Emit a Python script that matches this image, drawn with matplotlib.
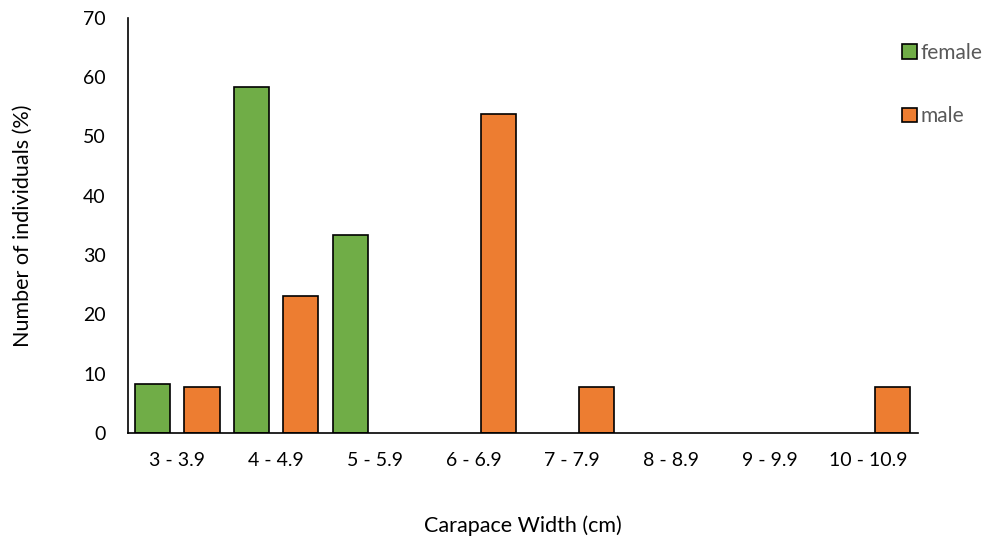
import matplotlib
matplotlib.use("Agg")
import matplotlib.pyplot as plt
import numpy as np

plt.rcParams["font.family"] = ["Lato", "DejaVu Sans"]

categories = ["3 - 3.9", "4 - 4.9", "5 - 5.9", "6 - 6.9", "7 - 7.9", "8 - 8.9", "9 - 9.9", "10 - 10.9"]
female = [8.3, 58.3, 33.3, 0, 0, 0, 0, 0]
male = [7.7, 23.1, 0, 53.8, 7.7, 0, 0, 7.7]

x = np.arange(len(categories))
width = 0.355
offset = 0.25

fig = plt.figure(figsize=(9.92, 5.39), dpi=100)
ax = fig.add_axes([0.129, 0.197, 0.796, 0.770])

# empty classes get no outline so the baseline stays clean
def edges(vals):
    return ["black" if v > 0 else "none" for v in vals]

ax.bar(x - offset, female, width, color="#70ad47", edgecolor=edges(female), linewidth=1.2, label="female")
ax.bar(x + offset, male, width, color="#ed7d31", edgecolor=edges(male), linewidth=1.2, label="male")

ax.set_xlim(-0.5, len(categories) - 0.5)
ax.set_ylim(0, 70)
ax.set_yticks(range(0, 71, 10))
ax.set_xticks(x)
ax.set_xticklabels(categories)
ax.tick_params(length=0, labelsize=14, colors="black", pad=14)
ax.tick_params(axis="y", pad=16)

for side in ["top", "right"]:
    ax.spines[side].set_visible(False)
for side in ["left", "bottom"]:
    ax.spines[side].set_linewidth(1.2)

ax.set_xlabel("Carapace Width (cm)", fontsize=15.5, labelpad=33)
ax.set_ylabel("Number of individuals (%)", fontsize=15.5, labelpad=36)

leg = ax.legend(loc="upper left", bbox_to_anchor=(0.97, 0.96), frameon=False,
                fontsize=15, handlelength=0.7, handleheight=0.7, handletextpad=0.2,
                labelspacing=2.1, borderaxespad=0)
for h in leg.legend_handles:
    h.set_edgecolor("black")
for t in leg.get_texts():
    t.set_color("#595959")

fig.savefig("out.png", dpi=100, facecolor="white")
